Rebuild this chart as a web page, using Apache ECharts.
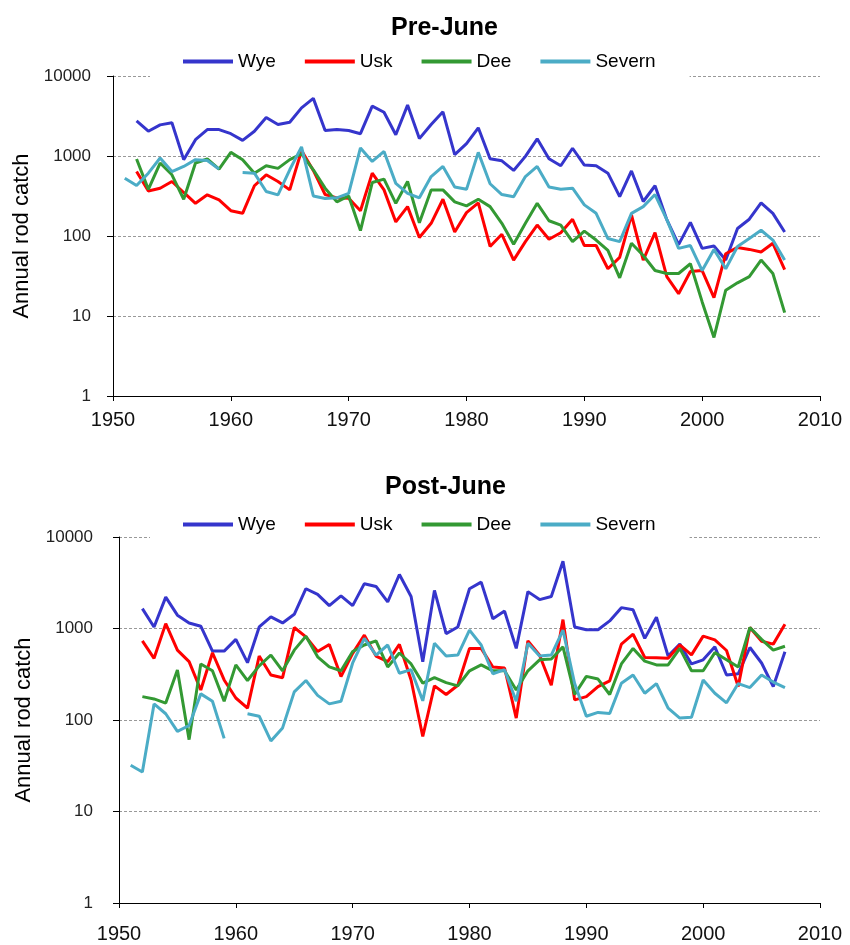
<!DOCTYPE html>
<html>
<head>
<meta charset="utf-8">
<script src="https://cdn.jsdelivr.net/npm/echarts@6/dist/echarts.min.js"></script>
<style>
  html, body { margin: 0; padding: 0; background: #fff; }
  #chart { width: 850px; height: 945px; }
</style>
</head>
<body>
<div id="chart"></div>
<script>
// years of the record
const years = [
  1951, 1952, 1953, 1954, 1955, 1956, 1957, 1958, 1959, 1960,
  1961, 1962, 1963, 1964, 1965, 1966, 1967, 1968, 1969, 1970,
  1971, 1972, 1973, 1974, 1975, 1976, 1977, 1978, 1979, 1980,
  1981, 1982, 1983, 1984, 1985, 1986, 1987, 1988, 1989, 1990,
  1991, 1992, 1993, 1994, 1995, 1996, 1997, 1998, 1999, 2000,
  2001, 2002, 2003, 2004, 2005, 2006, 2007
];
const rivers = ["Wye", "Usk", "Dee", "Severn"];
const colors = ["#3535CC", "#FF0000", "#339933", "#4BACC6"];

// Pre-June rod catch
const wyePre = [
  null, 2750, 2040, 2450, 2600, 900, 1600, 2140, 2140, 1900,
  1570, 2040, 3030, 2470, 2640, 4000, 5250, 2080, 2150, 2080,
  1900, 4200, 3520, 1840, 4330, 1650, 2470, 3570, 1040, 1430,
  2250, 925, 870, 660, 990, 1640, 925, 755, 1250, 770,
  755, 610, 310, 650, 270, 425, 160, 78, 148, 70,
  75, 50, 124, 162, 260, 192, 112
];
const uskPre = [
  null, 640, 366, 396, 480, 350, 256, 327, 282, 207,
  192, 425, 582, 480, 377, 1170, 660, 330, 300, 296,
  207, 610, 377, 150, 233, 96, 144, 288, 112, 196,
  260, 74, 105, 50, 85, 137, 91, 110, 162, 76,
  76, 39, 54, 183, 50, 110, 31, 19, 36, 37,
  17, 60, 72, 68, 63, 81, 38
];
const deePre = [
  null, 917, 383, 817, 582, 288, 817, 917, 686, 1110,
  900, 610, 755, 700, 900, 1060, 672, 396, 267, 317,
  117, 466, 514, 256, 480, 146, 377, 377, 267, 238,
  288, 233, 144, 79, 144, 256, 155, 137, 85, 115,
  89, 66, 30, 81, 57, 37, 34, 34, 45, 15,
  5.4, 21, 26, 31, 50, 34, 11
];
const severnPre = [
  528, 427, 610, 945, 640, 740, 900, 880, 686, null,
  620, 610, 360, 327, 672, 1300, 317, 295, 300, 342,
  1260, 855, 1140, 455, 342, 300, 554, 740, 410, 383,
  1110, 450, 330, 310, 554, 740, 410, 383, 396, 245,
  192, 93, 85, 192, 233, 330, 160, 70, 76, 37,
  68, 39, 74, 93, 118, 89, 50
];

// Post-June rod catch
const wyePost = [
  null, 1650, 1040, 2200, 1400, 1150, 1060, 566, 566, 760,
  423, 1040, 1340, 1150, 1430, 2720, 2360, 1780, 2270, 1780,
  3090, 2880, 1950, 3890, 2240, 434, 2610, 880, 1040, 2720,
  3210, 1280, 1550, 606, 2530, 2070, 2240, 5420, 1040, 970,
  970, 1210, 1690, 1600, 780, 1330, 500, 675, 410, 455,
  630, 310, 320, 620, 420, 232, 557
];
const uskPost = [
  null, 733, 472, 1130, 580, 435, 213, 543, 274, 174,
  135, 500, 310, 290, 1025, 810, 560, 670, 298, 535,
  846, 500, 435, 670, 274, 66, 236, 190, 240, 606,
  606, 380, 370, 105, 733, 510, 240, 1250, 166, 180,
  232, 268, 675, 866, 483, 480, 472, 660, 515, 825,
  750, 575, 232, 1025, 726, 675, 1110
];
const deePost = [
  null, 180, 170, 153, 353, 61, 410, 345, 160, 400,
  270, 390, 513, 345, 580, 825, 490, 380, 345, 560,
  660, 733, 380, 540, 410, 253, 290, 256, 236, 345,
  400, 345, 345, 213, 345, 455, 465, 630, 190, 300,
  280, 190, 410, 606, 440, 400, 400, 606, 345, 345,
  545, 455, 380, 1025, 760, 580, 640
];
const severnPost = [
  32, 27, 150, 117, 75, 87, 193, 160, 63, null,
  117, 110, 59, 82, 203, 270, 186, 150, 160, 420,
  780, 513, 660, 324, 355, 162, 690, 500, 513, 960,
  660, 320, 355, 160, 690, 500, 513, 960, 250, 110,
  121, 118, 252, 310, 196, 250, 135, 105, 107, 274,
  196, 154, 250, 226, 310, 260, 226
];

const preSets = [wyePre, uskPre, deePre, severnPre];
const postSets = [wyePost, uskPost, deePost, severnPost];

const FONT = "Liberation Sans";

function pairs(arr) {
  return years.map((y, i) => [y, arr[i]]);
}

function xAxisFor(gridIndex, margin) {
  return {
    type: "value",
    gridIndex: gridIndex,
    min: 1950,
    max: 2010,
    interval: 10,
    axisLine: { show: true, onZero: false, lineStyle: { color: "#000", width: 1 } },
    axisTick: { show: true, inside: false, length: 5, lineStyle: { color: "#000" } },
    axisLabel: {
      margin: margin,
      fontFamily: FONT,
      fontSize: 20,
      color: "#111",
      formatter: function (v) { return String(v); }
    },
    splitLine: { show: false }
  };
}

function yAxisFor(gridIndex, nameGap, labelMargin) {
  return {
    type: "log",
    logBase: 10,
    gridIndex: gridIndex,
    min: 1,
    max: 10000,
    name: "Annual rod catch",
    nameLocation: "middle",
    nameGap: nameGap,
    nameTextStyle: { fontFamily: FONT, fontSize: 22, color: "#000" },
    axisLine: { show: true, lineStyle: { color: "#000", width: 1 } },
    axisTick: { show: true, inside: false, length: 6, lineStyle: { color: "#000" } },
    axisLabel: {
      margin: labelMargin,
      fontFamily: FONT,
      fontSize: 17,
      color: "#222",
      formatter: function (v) { return String(v); }
    },
    splitLine: { show: true, lineStyle: { color: "#999", width: 1, type: [3, 2] } }
  };
}

function legendFor(top) {
  return {
    data: rivers,
    left: 150,
    top: top,
    orient: "horizontal",
    icon: "rect",
    itemWidth: 50,
    itemHeight: 4,
    itemGap: 29,
    padding: [6, 34, 10, 33],
    backgroundColor: "#fff",
    textStyle: { fontFamily: FONT, fontSize: 19, color: "#000" }
  };
}

const series = [];
rivers.forEach((name, k) => {
  series.push({
    name: name, type: "line", xAxisIndex: 0, yAxisIndex: 0,
    data: pairs(preSets[k]), showSymbol: false, symbol: "none",
    lineStyle: { width: 3, color: colors[k] }, itemStyle: { color: colors[k] },
    connectNulls: false, animation: false
  });
});
rivers.forEach((name, k) => {
  series.push({
    name: name, type: "line", xAxisIndex: 1, yAxisIndex: 1,
    data: pairs(postSets[k]), showSymbol: false, symbol: "none",
    lineStyle: { width: 3, color: colors[k] }, itemStyle: { color: colors[k] },
    connectNulls: false, animation: false
  });
});

const myChart = echarts.init(document.getElementById("chart"), null, { renderer: "canvas" });

myChart.setOption({
  backgroundColor: "#fff",
  animation: false,
  color: colors,
  title: [
    {
      text: "Pre-June", left: 386, top: 11,
      textStyle: { fontFamily: FONT, fontSize: 25, fontWeight: "bold", color: "#000" }
    },
    {
      text: "Post-June", left: 380, top: 470,
      textStyle: { fontFamily: FONT, fontSize: 25, fontWeight: "bold", color: "#000" }
    }
  ],
  legend: [legendFor(46), legendFor(509)],
  grid: [
    { left: 113, right: 30, top: 76, height: 320, containLabel: false },
    { left: 119, right: 30, top: 537, height: 366, containLabel: false }
  ],
  xAxis: [xAxisFor(0, 14), xAxisFor(1, 21)],
  yAxis: [yAxisFor(0, 76, 22), yAxisFor(1, 82, 26)],
  series: series
});
</script>
</body>
</html>
